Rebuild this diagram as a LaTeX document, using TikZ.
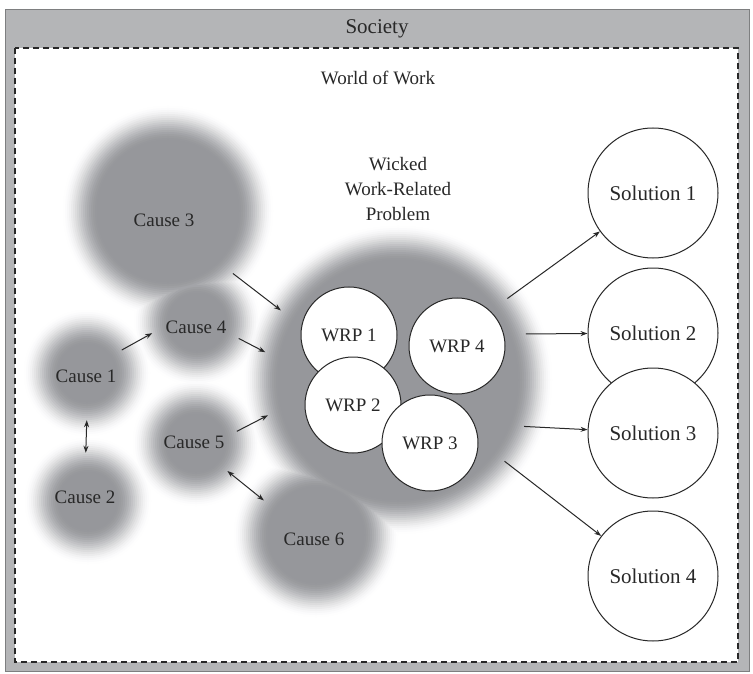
\documentclass[tikz,border=0pt]{standalone}
\usepackage{fontspec}
\setmainfont{Liberation Serif}
\usetikzlibrary{arrows.meta,positioning}
\definecolor{framegray}{RGB}{180,181,183}
\definecolor{blobgray}{RGB}{150,151,155}
\definecolor{inkgray}{RGB}{40,40,40}
\pgfdeclarelayer{frame}
\pgfdeclarelayer{background}
\pgfsetlayers{frame,background,main}

\begin{document}
\begin{tikzpicture}[x=1pt,y=-1pt,
  every node/.style={font=\fontsize{19}{25}\selectfont, text=inkgray},
  big/.style={font=\fontsize{21}{25}\selectfont},
  >={Stealth[length=7pt,width=5pt]},
  cause/.style={circle, inner sep=0pt, minimum size=88pt},
  problem/.style={circle, draw=inkgray, line width=1pt, fill=white, inner sep=0pt, minimum size=96pt},
  solution/.style={problem, big, minimum size=130pt},
  arr/.style={->, draw=inkgray, line width=1pt},
  dblarr/.style={<->, draw=inkgray, line width=1pt}]
\useasboundingbox (0,0) rectangle (753,674);

% society and world of work
\begin{pgfonlayer}{frame}
\filldraw[fill=framegray, draw=framegray!70!black] (5,9) rectangle (749,671);
\fill[white] (15,48) rectangle (738,662);
\draw[inkgray, line width=1.5pt, dash pattern=on 6pt off 4pt] (15,48) rectangle (738,662);
\end{pgfonlayer}
\node[big] (society) at (377,29) {Society};
\node (world) at (378,78) {World of Work};

% causes
\node[cause] (c3) at (164,220) {Cause 3};
\node[cause] (c4) at (196,327) {Cause 4};
\node[cause] (c1) at (86,376) {Cause 1};
\node[cause] (c2) at (85,497) {Cause 2};
\node[cause] (c5) at (194,442) {Cause 5};
\node[cause] (c6) at (314,539) {Cause 6};

% wicked problem
\node[cause, minimum size=270pt] (wrp) at (398,378) {};
\node[align=center, above=19pt of wrp.north] (wlabel) {Wicked\\Work-Related\\Problem};

% blurred blobs
\begin{pgfonlayer}{background}
\foreach \k in {1,...,18}{
  \pgfmathsetmacro\t{\k/18}
  \pgfmathsetmacro\pct{100*(3*\t*\t-2*\t*\t*\t)}
  \pgfmathsetmacro\off{17-34*(\k-1)/17}
  \fill[blobgray!\pct!white]
    \foreach \c/\dx/\dy/\r in {c3/4/-9/88, c4/1/-5/46, c1/1/-3/46, c2/3/4/46,
                               c5/2/1/46, c6/2/-4/65, wrp/0/2/137}{
      ([xshift=\dx pt, yshift=-\dy pt]\c.center) circle ({\r+\off}) };
}
\end{pgfonlayer}

\node[problem] (p1) at (349,335) {WRP 1};
\node[problem] (p2) at (353,405) {WRP 2};
\node[problem] (p3) at (430,443) {WRP 3};
\node[problem] (p4) at (457,346) {WRP 4};

% solutions
\node[solution] (s1) at (653,193) {Solution 1};
\node[solution] (s2) at (653,333) {Solution 2};
\node[solution] (s3) at (653,433) {Solution 3};
\node[solution] (s4) at (653,576) {Solution 4};

% arrows
\draw[arr] (c1.36) -- (c4.188);
\draw[dblarr] (c1.-89) -- (c2.89);
\draw[arr, shorten <=43pt] (c3.-38) -- (wrp.150);
\draw[arr] (c4.-15) -- (wrp.169);
\draw[arr] (c5.14) -- (wrp.-164);
\draw[dblarr, shorten >=19pt] (c5.-41) -- (c6.143);
\foreach \a/\s in {36/s1,19/s2,-21/s3,-38/s4}
  \draw[arr] (wrp.\a) -- (\s);
\end{tikzpicture}
\end{document}
